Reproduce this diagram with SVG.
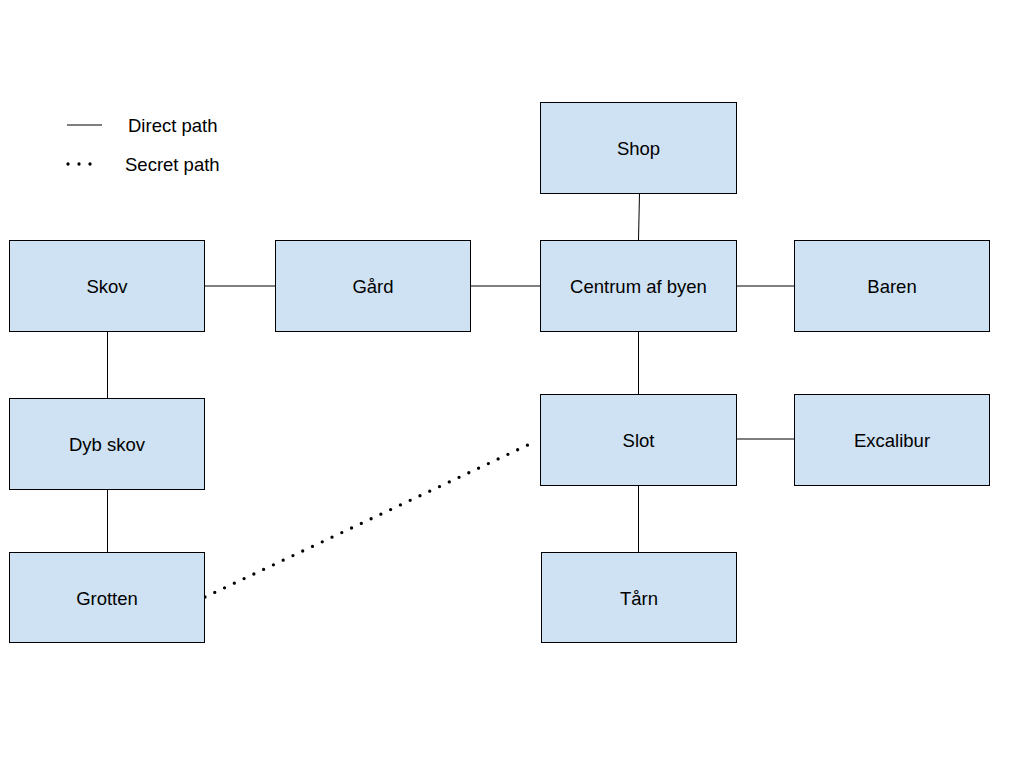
<svg xmlns="http://www.w3.org/2000/svg" width="1024" height="768" viewBox="0 0 1024 768">
<style>
.n rect{fill:#cfe2f3;stroke:#000;stroke-width:1}
text{font-family:"Liberation Sans",Arial,sans-serif;font-size:18.5px;fill:#000;text-anchor:middle;dominant-baseline:central}
.lg{font-size:18.5px;text-anchor:start}
.c line{stroke:#000;stroke-width:1}
.c .d{stroke-width:3.3;stroke-dasharray:0 10.8;stroke-linecap:round}
</style>
<rect width="1024" height="768" fill="#fff"/>
<g id="legend">
<line x1="67" y1="125" x2="102" y2="125" stroke="#000" stroke-width="1"/>
<text class="lg" x="128" y="125">Direct path</text>
<line x1="68" y1="164" x2="96" y2="164" stroke="#000" stroke-width="3.3" stroke-dasharray="0 11" stroke-linecap="round"/>
<text class="lg" x="125" y="164">Secret path</text>
</g>
<g class="c" id="connectors">
<line x1="639.5" y1="193" x2="638.5" y2="240"/>
<line x1="204" y1="286" x2="275" y2="286"/>
<line x1="470" y1="286" x2="540" y2="286"/>
<line x1="736" y1="286" x2="794" y2="286"/>
<line x1="638.5" y1="331" x2="638.5" y2="394"/>
<line x1="736" y1="439" x2="794" y2="439"/>
<line x1="638.5" y1="485" x2="638.5" y2="552"/>
<line x1="107.5" y1="331" x2="107.5" y2="398"/>
<line x1="107.5" y1="489" x2="107.5" y2="552"/>
<line class="d" x1="205" y1="597" x2="532" y2="443"/>
</g>
<g class="n" id="shop"><rect x="540.5" y="102.5" width="196" height="91"/><text x="638.5" y="148.5">Shop</text></g>
<g class="n" id="skov"><rect x="9.5" y="240.5" width="195" height="91"/><text x="107" y="286.5">Skov</text></g>
<g class="n" id="gaard"><rect x="275.5" y="240.5" width="195" height="91"/><text x="373" y="286.5">Gård</text></g>
<g class="n" id="centrum"><rect x="540.5" y="240.5" width="196" height="91"/><text x="638.5" y="286.5">Centrum af byen</text></g>
<g class="n" id="baren"><rect x="794.5" y="240.5" width="195" height="91"/><text x="892" y="286.5">Baren</text></g>
<g class="n" id="dybskov"><rect x="9.5" y="398.5" width="195" height="91"/><text x="107" y="444.5">Dyb skov</text></g>
<g class="n" id="slot"><rect x="540.5" y="394.5" width="196" height="91"/><text x="638.5" y="440.5">Slot</text></g>
<g class="n" id="excalibur"><rect x="794.5" y="394.5" width="195" height="91"/><text x="892" y="440.5">Excalibur</text></g>
<g class="n" id="grotten"><rect x="9.5" y="552.5" width="195" height="90"/><text x="107" y="598.5">Grotten</text></g>
<g class="n" id="taarn"><rect x="541.5" y="552.5" width="195" height="90"/><text x="639" y="598.5">Tårn</text></g>
</svg>
